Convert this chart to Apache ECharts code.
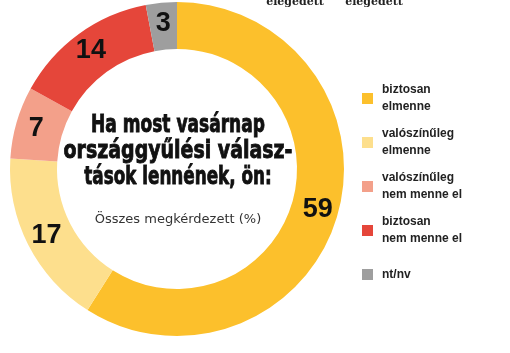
<!DOCTYPE html>
<html>
<head>
<meta charset="utf-8">
<script src="https://cdn.jsdelivr.net/npm/echarts@6/dist/echarts.min.js"></script>
<style>html,body{margin:0;padding:0;background:#fff}#c{width:510px;height:353px}</style>
</head>
<body>
<div id="c"></div>
<script>
var categories = ["biztosan\nelmenne", "valószínűleg\nelmenne", "valószínűleg\nnem menne el", "biztosan\nnem menne el", "nt/nv"];
var values = [59, 17, 7, 14, 3];
var colors = ["#FCC02C", "#FDDF8D", "#F3A08A", "#E5463A", "#9E9E9E"];
var titleLines = ["Ha most vasárnap", "országgyűlési válasz-", "tások lennének, ön:"];
var subtitle = "Összes megkérdezett (%)";
var topTexts = ["elégedett", "elégedett"];

var chart = echarts.init(document.getElementById('c'), null, {renderer: 'canvas'});

var legendData = categories.map(function (c, i) {
  var twoLine = c.indexOf('\n') >= 0;
  return {
    name: c,
    itemStyle: {color: colors[i]},
    textStyle: {padding: twoLine ? [17, 0, 0, 4] : [17, 0, 17, 4]}
  };
});

var graphics = [];
var titleY = [125.5, 152, 177.5];
var titleScale = [0.71, 0.79, 0.70];
titleLines.forEach(function (t, i) {
  graphics.push({
    type: 'text', x: 178, y: titleY[i], scaleX: titleScale[i], z: 100,
    style: {text: t, x: 0, y: 0, align: 'center', verticalAlign: 'middle',
      font: 'bold 24px "DejaVu Sans"', fill: '#111', stroke: '#111', lineWidth: 0.9}
  });
});
graphics.push({
  type: 'text', z: 100,
  style: {text: subtitle, x: 178, y: 220, align: 'center', verticalAlign: 'middle',
    font: '13px "DejaVu Sans"', fill: '#333'}
});
graphics.push({
  type: 'text',
  style: {text: topTexts[0], x: 295, y: 2, align: 'center', verticalAlign: 'middle',
    font: 'bold 11px "DejaVu Serif", serif', fill: '#222'}
});
graphics.push({
  type: 'text',
  style: {text: topTexts[1], x: 374, y: 2, align: 'center', verticalAlign: 'middle',
    font: 'bold 11px "DejaVu Serif", serif', fill: '#222'}
});

chart.setOption({
  animation: false,
  color: colors,
  legend: {
    orient: 'vertical',
    left: 362, top: 73,
    padding: 0,
    itemGap: -7,
    itemWidth: 11, itemHeight: 11,
    icon: 'rect',
    selectedMode: false,
    textStyle: {fontFamily: '"Liberation Sans", Arial, sans-serif', fontWeight: 'bold', fontSize: 12, lineHeight: 17, color: '#222'},
    data: legendData
  },
  graphic: graphics,
  series: [{
    type: 'pie',
    center: [177, 169],
    radius: [120, 167],
    startAngle: 90,
    clockwise: true,
    avoidLabelOverlap: false,
    label: {
      show: true, position: 'inside',
      formatter: '{c}',
      fontFamily: '"Liberation Sans", Arial, sans-serif', fontWeight: 'bold', fontSize: 27, color: '#111'
    },
    labelLine: {show: false},
    itemStyle: {borderWidth: 0},
    emphasis: {disabled: true},
    data: categories.map(function (c, i) { return {name: c, value: values[i], itemStyle: {color: colors[i]}}; })
  }]
});
</script>
</body>
</html>
